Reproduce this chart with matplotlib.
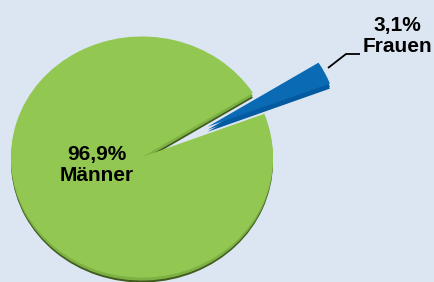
import numpy as np
import matplotlib
matplotlib.use("Agg")
from matplotlib import pyplot as plt
from matplotlib.patches import Rectangle

# Anteil Frauen / Männer
labels = ["Frauen", "Männer"]
values = [3.1, 96.9]
value_text = ["3,1%", "96,9%"]

bg = "#dce6f2"
top_colors = ["#0a6ab4", "#92c852"]
side_colors = ["#045aa0", "#7eb144"]
rim_colors = ["#045aa0", "#3f5c1e"]

W, H = 435, 282
squash = 0.92  # Ellipse (3D-Neigung)

fig = plt.figure(figsize=(W / 100, H / 100), dpi=100, facecolor=bg)
ax = fig.add_axes([0, 0, 1, 1])
ax.set_facecolor(bg)


def py(y):
    # Pixel von oben -> Datenkoordinate
    return (H - y) / squash


r = 131
cx, cy = 142, 157
expl = [r * 0.56, 0]

# dunkler Rand unten
rim, _ = ax.pie(values, colors=rim_colors, startangle=21, counterclock=True,
                explode=expl, radius=r, center=(cx, py(cy + 5)), frame=True,
                wedgeprops=dict(linewidth=0, zorder=0))
clip = Rectangle((0, 0), W, py(cy), transform=ax.transData)
for w in rim:
    w.set_clip_path(clip)

# Seitenfläche
ax.pie(values, colors=side_colors, startangle=21, counterclock=True,
       explode=expl, radius=r, center=(cx, py(cy + 3)), frame=True,
       wedgeprops=dict(linewidth=0, zorder=1))
# Oberfläche
ax.pie(values, colors=top_colors, startangle=21, counterclock=True,
       explode=expl, radius=r, center=(cx, py(cy)), frame=True,
       wedgeprops=dict(linewidth=0, zorder=2))

ax.set_aspect("auto")
ax.set_xlim(0, W)
ax.set_ylim(0, H / squash)
ax.axis("off")

font = dict(family=["Liberation Sans", "DejaVu Sans"], fontsize=15,
            fontweight="bold", ha="center", va="center", linespacing=1.1)
fig.text(97 / W, 1 - 165 / H, value_text[1] + "\n" + labels[1], **font)
fig.text(397 / W, 1 - 36 / H, value_text[0] + "\n" + labels[0], **font)

# Führungslinie
ax.plot([328, 346, 360], [py(68), py(54), py(54)], color="black", lw=1.3,
        zorder=3, solid_capstyle="butt")

plt.savefig("out.png", dpi=100, facecolor=bg)
